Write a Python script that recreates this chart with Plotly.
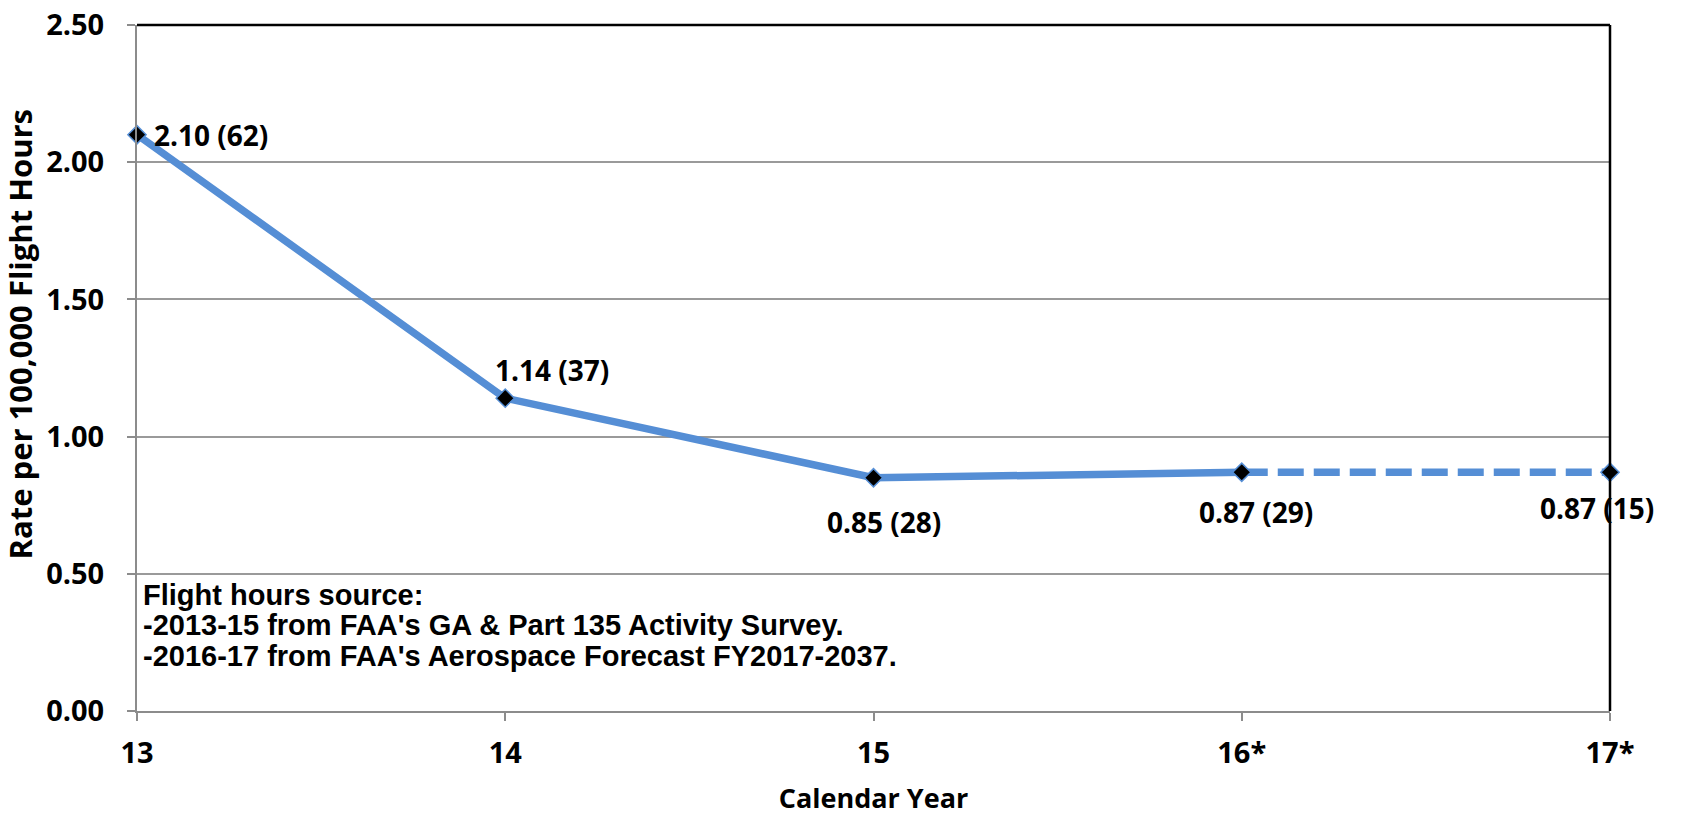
import plotly.graph_objects as go

categories = ["13", "14", "15", "16*", "17*"]
rates = [2.10, 1.14, 0.85, 0.87, 0.87]
counts = [62, 37, 28, 29, 15]
y_ticks = [0.0, 0.5, 1.0, 1.5, 2.0, 2.5]
note_lines = [
    "Flight hours source:",
    "-2013-15 from FAA's GA & Part 135 Activity Survey.",
    "-2016-17 from FAA's Aerospace Forecast FY2017-2037.",
]

BLUE = "#558ED5"
FONT = "Open Sans, Lato, sans-serif"
xs = list(range(len(categories)))

fig = go.Figure()
fig.add_trace(go.Scatter(x=xs[:4], y=rates[:4], mode="lines",
                         line=dict(color=BLUE, width=7.5), cliponaxis=False, hoverinfo="skip"))
fig.add_trace(go.Scatter(x=xs[3:], y=rates[3:], mode="lines",
                         line=dict(color=BLUE, width=7.5, dash="26px,10px"), cliponaxis=False, hoverinfo="skip"))
fig.add_trace(go.Scatter(x=xs, y=rates, mode="markers",
                         marker=dict(symbol="diamond", size=14, color="black",
                                     line=dict(color=BLUE, width=1.5)),
                         cliponaxis=False))

label_font = dict(family=FONT, size=28, color="black")
shifts = [(15, 0, "left"), (47, 28, "center"), (10, -44, "center"), (14, -40, "center"), (-13, -36, "center")]
for i, (xsft, ysft, anc) in enumerate(shifts):
    fig.add_annotation(x=xs[i], y=rates[i], text=f"<b>{rates[i]:.2f} ({counts[i]})</b>",
                       showarrow=False, xshift=xsft, yshift=ysft, xanchor=anc, yanchor="middle",
                       font=label_font)

note_y = [0.169, 0.125, 0.080]
for t, yy in zip(note_lines, note_y):
    fig.add_annotation(xref="paper", yref="paper", x=0.0, y=yy, xanchor="left", yanchor="middle",
                       xshift=4, align="left", showarrow=False, text=f"<b>{t}</b>",
                       font=dict(family="Liberation Sans, Arial, sans-serif", size=29, color="black"))

# y-axis title as rotated annotation
fig.add_annotation(xref="paper", yref="paper", x=-0.0794, y=0.549, xanchor="center", yanchor="middle",
                   textangle=-90, showarrow=False,
                   text="<b>Rate per 100,000 Flight Hours</b>",
                   font=dict(family=FONT, size=31, color="black"))

# top and right black frame
fig.add_shape(type="line", xref="paper", yref="paper", x0=0, x1=1, y0=1, y1=1,
              line=dict(color="black", width=2.5))
fig.add_shape(type="line", xref="paper", yref="paper", x0=1, x1=1, y0=0, y1=1,
              line=dict(color="black", width=2.5))

fig.update_layout(
    width=1681, height=817,
    margin=dict(l=137, r=71, t=25, b=106),
    paper_bgcolor="white", plot_bgcolor="white",
    showlegend=False,
    xaxis=dict(range=[0, 4], tickmode="array", tickvals=xs, ticktext=[f"<b>{c}</b>" for c in categories],
               automargin=False,
               showgrid=False, zeroline=False, showline=True, linecolor="#8c8c8c", linewidth=2,
               ticks="outside", ticklen=8, tickcolor="#8c8c8c", tickwidth=2,
               ticklabelstandoff=7,
               tickfont=dict(family=FONT, size=29, color="black"),
               title=dict(text="<b>Calendar Year</b>", standoff=19,
                          font=dict(family=FONT, size=27, color="black"))),
    yaxis=dict(range=[0, 2.5], tickmode="array", tickvals=y_ticks,
               ticktext=[f"<b>{v:.2f}</b>" for v in y_ticks],
               automargin=False,
               showgrid=True, gridcolor="#9a9a9a", gridwidth=1.5, zeroline=False,
               showline=True, linecolor="#8c8c8c", linewidth=2,
               ticks="outside", ticklen=8, tickcolor="#8c8c8c", tickwidth=2,
               ticklabelstandoff=17,
               tickfont=dict(family=FONT, size=29, color="black")),
)

fig.write_html("out.html", config={"displayModeBar": False},
               post_script="document.body.style.margin='0';")
